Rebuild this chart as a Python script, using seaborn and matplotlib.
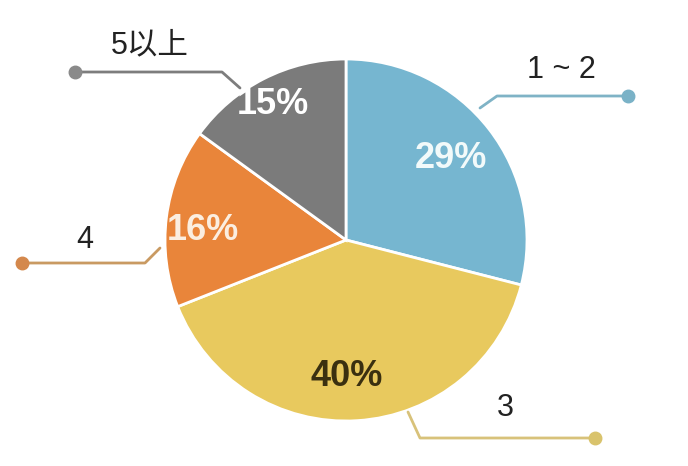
import matplotlib.pyplot as plt
import seaborn as sns

# Data
labels = ['1 ~ 2', '3', '4', '5以上']
shares = [29, 40, 16, 15]
pct_text = ['29%', '40%', '16%', '15%']

sns.set_theme(style='white')
plt.rcParams['font.family'] = ['Liberation Sans', 'Noto Sans CJK SC', 'DejaVu Sans']

colors = sns.color_palette(['#76b6d0', '#e8c95e', '#e9853a', '#7b7b7b'])
line_colors = ['#7fb3c6', '#d8c27a', '#c99a62', '#7d7d7d']
dot_colors = ['#7ab2c7', '#d9c36c', '#d4884c', '#8a8a8a']
pct_colors = ['#f2fafa', '#3a3010', '#fbeee0', '#ffffff']

H = 466
fig = plt.figure(figsize=(6.88, 4.66), dpi=100)
ax = fig.add_axes([0, 0, 1, 1])

ax.pie(shares, colors=colors, startangle=90, counterclock=False,
       center=(346, H - 240), radius=181,
       wedgeprops=dict(edgecolor='white', linewidth=2))

# pie() resets limits, so set pixel-like coordinates afterwards
ax.set_xlim(0, 688)
ax.set_ylim(0, H)
ax.set_aspect('auto')
ax.axis('off')

# percentage labels inside slices
pct_pos = [(451, 158), (347, 376), (203, 230), (273, 104)]
for (x, y), t, c in zip(pct_pos, pct_text, pct_colors):
    ax.text(x, H - y, t, ha='center', va='center', fontsize=26,
            fontweight='bold', color=c)

# leader lines (pixel coords from top-left)
leaders = [
    [(480, 108), (497, 96), (628, 96)],
    [(408, 412), (420, 438), (595, 438)],
    [(160, 248), (145, 263), (22, 263)],
    [(240, 88), (222, 72), (75, 72)],
]
label_pos = [(561, 70), (505, 408), (85, 240), (150, 45)]
for pts, lc, dc, lab, (lx, ly) in zip(leaders, line_colors, dot_colors, labels, label_pos):
    xs = [p[0] for p in pts]
    ys = [H - p[1] for p in pts]
    ax.plot(xs, ys, color=lc, lw=2, solid_capstyle='round')
    ax.plot(xs[-1], ys[-1], 'o', color=dc, ms=9)
    ax.text(lx, H - ly, lab, ha='center', va='center', fontsize=22, color='#222222')

fig.savefig('out.png', dpi=100)
